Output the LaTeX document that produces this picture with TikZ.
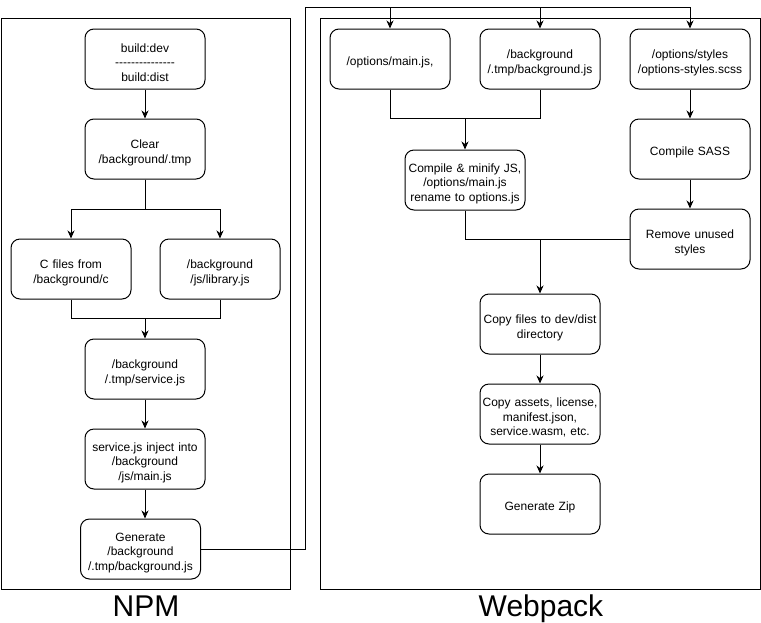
\documentclass[tikz,border=0pt]{standalone}
\usepackage{fontspec}
\setmainfont{Liberation Sans}
\usepackage{tikz}
\usetikzlibrary{arrows.meta,positioning,calc}
\tikzstyle{bloc} = [draw, line width=1pt, rounded corners=9pt, minimum width=120pt,
  minimum height=60pt, text width=118pt, inner sep=1pt, align=center,
  font=\fontsize{12}{14.7}\selectfont, execute at begin node={\rule{0pt}{16pt}}]
\tikzstyle{cadre} = [draw, line width=1pt]
\tikzstyle{titre} = [anchor=base, inner sep=0pt, font=\fontsize{30}{30}\selectfont]
\tikzstyle{line} = [draw, line width=1pt, -{Stealth[length=8pt,width=7pt,inset=2.5pt]}]
\tikzstyle{lien} = [draw, line width=1pt]
\newcommand{\bloc}[2]{node (#1)[bloc]{#2}}
\newcommand{\tiret}{\mbox{-}}

\begin{document}
\begin{tikzpicture}[x=1pt,y=-1pt]
  \useasboundingbox (0,0) rectangle (761,622);

  % Frames
  \path[cadre] (1,18) rectangle (290,589);
  \path[cadre] (320,18) rectangle (760,589);
  \node (lnpm) [titre] at (146,616) {NPM};
  \node (lweb) [titre] at (541,616) {Webpack};

  % NPM steps
  \path (145,59) \bloc{p1}{build:dev\\
    \tiret\tiret\tiret\tiret\tiret\tiret\tiret\tiret\tiret\tiret\tiret\tiret\tiret\tiret\tiret\\
    build:dist};
  \path (p1)+(0,90) \bloc{p2}{Clear\\/background/.tmp};
  \path (p2)+(-74,120) \bloc{p3}{C files from\\/background/c};
  \path (p2)+(75,120) \bloc{p4}{/background\\/js/library.js};
  \path (p2)+(0,220) \bloc{p5}{/background\\/.tmp/service.js};
  \path (p5)+(0,90) \bloc{p6}{service.js inject into\\/background\\/js/main.js};
  \path (p6)+(-4.5,90) \bloc{p7}{Generate\\/background\\/.tmp/background.js};

  % Webpack steps
  \path (390,59) \bloc{w1}{/options/main.js,};
  \path (w1)+(150,0) \bloc{w2}{/background\\/.tmp/background.js};
  \path (w2)+(150,0) \bloc{w3}{/options/styles\\/options-styles.scss};
  \path (w1)+(75,121) \bloc{w4}{Compile \& minify JS,\\/options/main.js\\rename to options.js};
  \path (w3)+(0,90) \bloc{w5}{Compile SASS};
  \path (w5)+(0,90) \bloc{w6}{Remove unused\\styles};
  \path (w2)+(0,265) \bloc{w7}{Copy files to dev/dist\\directory};
  \path (w7)+(0,90) \bloc{w8}{Copy assets, license,\\manifest.json,\\service.wasm, etc.};
  \path (w8)+(0,90) \bloc{w9}{Generate Zip};

  % Junctions
  \coordinate (m1) at ($(p5.north)+(0,-20)$);
  \coordinate (h) at (305,7);
  \coordinate (m2) at ($(w4.north)+(0,-31)$);
  \coordinate (m3) at (w7.north |- w6.west);

  % NPM arrows
  \path [line] (p1) -- (p2);
  \path [line] (p2.south) -- +(0,30) -| (p3.north);
  \path [line] (p2.south) -- +(0,30) -| (p4.north);
  \path [lien] (p3.south) |- (m1);
  \path [lien] (p4.south) |- (m1);
  \path [line] (m1) -- (p5);
  \path [line] (p5) -- (p6);
  \path [line] (p6.south) -- (p6.south |- p7.north);

  % NPM to Webpack
  \path [line] (p7.east) -| (h) -| (w3.north);
  \path [line] (w1.north |- h) -- (w1.north);
  \path [line] (w2.north |- h) -- (w2.north);

  % Webpack arrows
  \path [lien] (w1.south) |- (m2);
  \path [lien] (w2.south) |- (m2);
  \path [line] (m2) -- (w4);
  \path [line] (w3) -- (w5);
  \path [line] (w5) -- (w6);
  \path [lien] (w4.south) |- (m3);
  \path [lien] (w6.west) -- (m3);
  \path [line] (m3) -- (w7);
  \path [line] (w7) -- (w8);
  \path [line] (w8) -- (w9);

\end{tikzpicture}
\end{document}
